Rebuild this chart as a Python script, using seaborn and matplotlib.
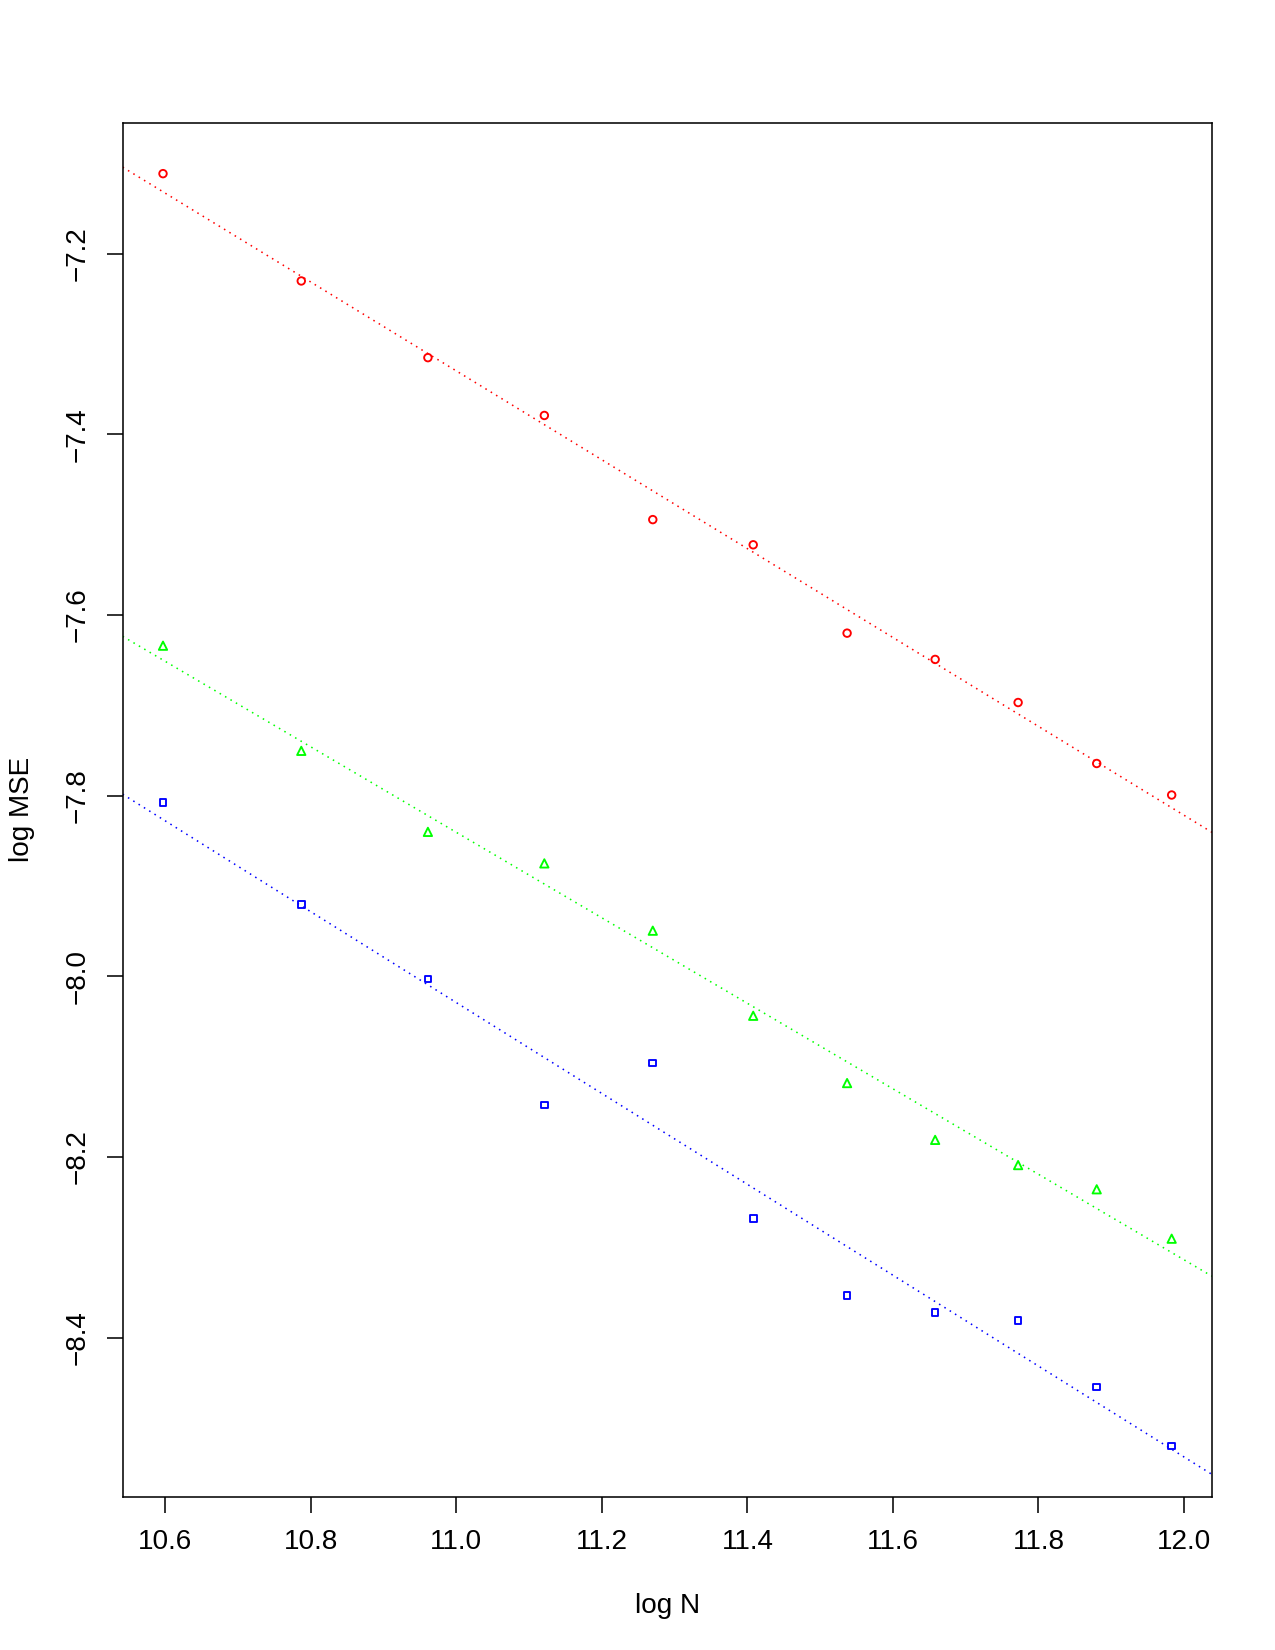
import numpy as np
import pandas as pd
import matplotlib
matplotlib.use('Agg')
import matplotlib.pyplot as plt
import seaborn as sns

# log N values (shared by all three series)
log_n = [10.597, 10.787, 10.961, 11.121, 11.270, 11.408, 11.537, 11.658, 11.772, 11.880, 11.983]

# log MSE for each series
mse_red = [-7.1115, -7.2303, -7.3152, -7.3792, -7.4945, -7.5224, -7.6202, -7.6493, -7.6970, -7.7645, -7.7994]
mse_green = [-7.6341, -7.7505, -7.8402, -7.8751, -7.9496, -8.0438, -8.1183, -8.1812, -8.2091, -8.2359, -8.2906]
mse_blue = [-7.8076, -7.9205, -8.0031, -8.1428, -8.0962, -8.2685, -8.3534, -8.3721, -8.3814, -8.4547, -8.5199]

x_ticks = [10.6, 10.8, 11.0, 11.2, 11.4, 11.6, 11.8, 12.0]
y_ticks = [-8.4, -8.2, -8.0, -7.8, -7.6, -7.4, -7.2]

sns.set_theme(style='white')
plt.rcParams['font.family'] = ['Liberation Sans', 'DejaVu Sans']
plt.rcParams['text.color'] = 'black'
plt.rcParams['axes.labelcolor'] = 'black'
plt.rcParams['xtick.color'] = 'black'
plt.rcParams['ytick.color'] = 'black'

fig = plt.figure(figsize=(8.5, 11), dpi=150)
ax = fig.add_axes([0.0962, 0.0929, 0.9506 - 0.0962, 0.9256 - 0.0929])

# R-style limits: data range padded by 4%
xr = max(log_n) - min(log_n)
ax.set_xlim(min(log_n) - 0.04 * xr, max(log_n) + 0.04 * xr)
all_y = mse_red + mse_green + mse_blue
yr = max(all_y) - min(all_y)
ax.set_ylim(min(all_y) - 0.04 * yr, max(all_y) + 0.04 * yr)

series = [
    (mse_red, '#ff0000', 'o', 13),
    (mse_green, '#00ff00', '^', 16),
    (mse_blue, '#0000ff', 's', 10),
]
for vals, col, mk, sz in series:
    df = pd.DataFrame({'logN': log_n, 'logMSE': vals})
    sns.regplot(data=df, x='logN', y='logMSE', ax=ax, ci=None, truncate=False,
                marker=mk, color=col,
                scatter_kws={'facecolors': 'none', 'edgecolors': col, 's': sz,
                             'linewidths': 0.9, 'alpha': 1},
                line_kws={'linestyle': (0, (1, 3)), 'linewidth': 0.75})

ax.set_xticks(x_ticks)
ax.set_xticklabels([f'{v:.1f}' for v in x_ticks])
ax.set_yticks(y_ticks)
ax.set_yticklabels([f'{v:.1f}'.replace('-', '\u2212') for v in y_ticks])
plt.setp(ax.get_yticklabels(), rotation=90, va='center')

ax.tick_params(axis='both', which='major', length=7.5, width=0.75, color='black',
               labelcolor='black', labelsize=13.4, pad=8, left=True, bottom=True)
for s in ax.spines.values():
    s.set_color('black')
    s.set_linewidth(0.75)

ax.set_xlabel('log N', fontsize=13.4, labelpad=18, color='black')
ax.set_ylabel('log MSE', fontsize=13.4, labelpad=14, color='black')
ax.grid(False)

fig.savefig('out.png', dpi=150)
